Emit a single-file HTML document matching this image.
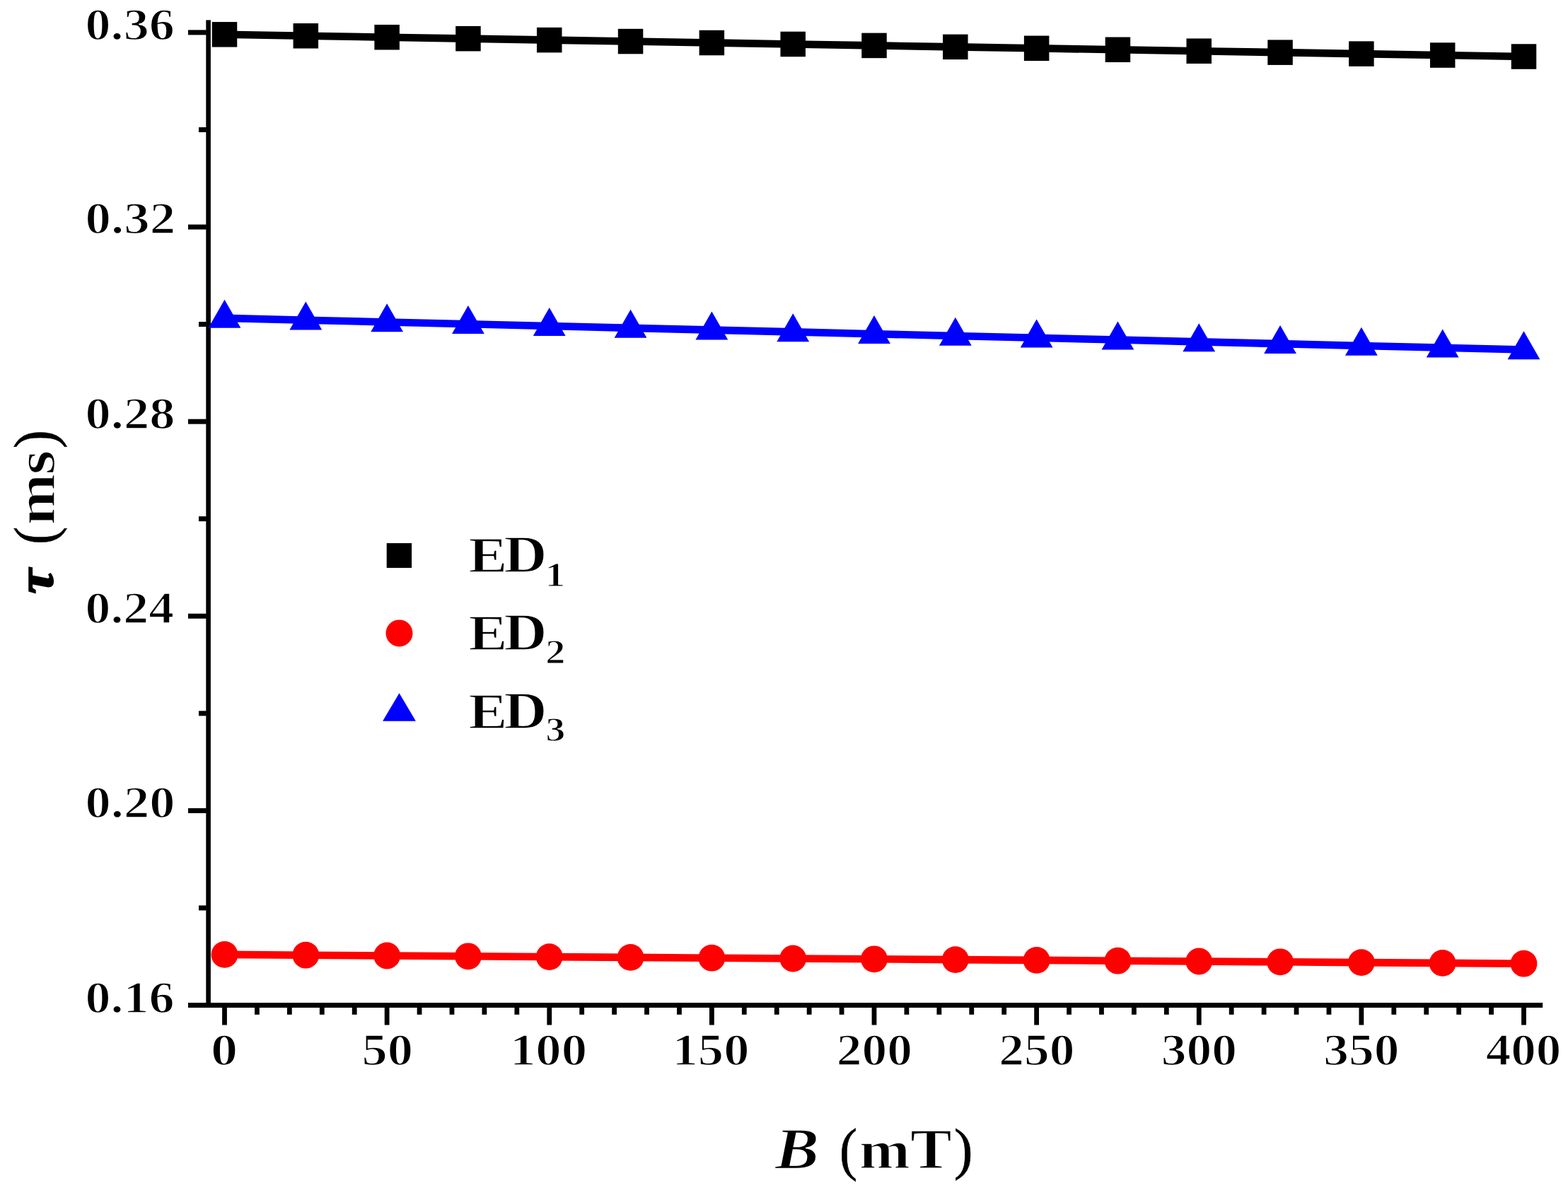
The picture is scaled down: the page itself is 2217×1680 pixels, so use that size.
<!DOCTYPE html>
<html><head><meta charset="utf-8"><title>tau vs B</title>
<style>
html,body{margin:0;padding:0;background:#fff;}
svg{display:block;}
text{font-family:'Liberation Serif', 'DejaVu Serif', serif;fill:#000;}
</style></head>
<body>
<svg width="2217" height="1680" viewBox="0 0 2217 1680" shape-rendering="geometricPrecision">
<rect width="2217" height="1680" fill="#fff"/>
<rect x="291.3" y="28.4" width="6.599999999999966" height="1396.6" fill="#000"/>
<rect x="291.3" y="1418.0" width="1889.8999999999999" height="7.0" fill="#000"/>
<rect x="266.0" y="1418.00" width="25.80" height="7.0" fill="#000"/>
<rect x="281.0" y="1280.44" width="10.80" height="7.0" fill="#000"/>
<rect x="266.0" y="1142.88" width="25.80" height="7.0" fill="#000"/>
<rect x="281.0" y="1005.32" width="10.80" height="7.0" fill="#000"/>
<rect x="266.0" y="867.76" width="25.80" height="7.0" fill="#000"/>
<rect x="281.0" y="730.20" width="10.80" height="7.0" fill="#000"/>
<rect x="266.0" y="592.64" width="25.80" height="7.0" fill="#000"/>
<rect x="281.0" y="455.08" width="10.80" height="7.0" fill="#000"/>
<rect x="266.0" y="317.52" width="25.80" height="7.0" fill="#000"/>
<rect x="281.0" y="179.96" width="10.80" height="7.0" fill="#000"/>
<rect x="266.0" y="42.40" width="25.80" height="7.0" fill="#000"/>
<rect x="314.10" y="1424.5" width="6.8" height="25.00" fill="#000"/>
<rect x="360.03" y="1424.5" width="6.8" height="10.30" fill="#000"/>
<rect x="405.95" y="1424.5" width="6.8" height="10.30" fill="#000"/>
<rect x="451.88" y="1424.5" width="6.8" height="10.30" fill="#000"/>
<rect x="497.80" y="1424.5" width="6.8" height="10.30" fill="#000"/>
<rect x="543.73" y="1424.5" width="6.8" height="25.00" fill="#000"/>
<rect x="589.65" y="1424.5" width="6.8" height="10.30" fill="#000"/>
<rect x="635.58" y="1424.5" width="6.8" height="10.30" fill="#000"/>
<rect x="681.50" y="1424.5" width="6.8" height="10.30" fill="#000"/>
<rect x="727.43" y="1424.5" width="6.8" height="10.30" fill="#000"/>
<rect x="773.35" y="1424.5" width="6.8" height="25.00" fill="#000"/>
<rect x="819.27" y="1424.5" width="6.8" height="10.30" fill="#000"/>
<rect x="865.20" y="1424.5" width="6.8" height="10.30" fill="#000"/>
<rect x="911.12" y="1424.5" width="6.8" height="10.30" fill="#000"/>
<rect x="957.05" y="1424.5" width="6.8" height="10.30" fill="#000"/>
<rect x="1002.98" y="1424.5" width="6.8" height="25.00" fill="#000"/>
<rect x="1048.90" y="1424.5" width="6.8" height="10.30" fill="#000"/>
<rect x="1094.82" y="1424.5" width="6.8" height="10.30" fill="#000"/>
<rect x="1140.75" y="1424.5" width="6.8" height="10.30" fill="#000"/>
<rect x="1186.67" y="1424.5" width="6.8" height="10.30" fill="#000"/>
<rect x="1232.60" y="1424.5" width="6.8" height="25.00" fill="#000"/>
<rect x="1278.52" y="1424.5" width="6.8" height="10.30" fill="#000"/>
<rect x="1324.45" y="1424.5" width="6.8" height="10.30" fill="#000"/>
<rect x="1370.38" y="1424.5" width="6.8" height="10.30" fill="#000"/>
<rect x="1416.30" y="1424.5" width="6.8" height="10.30" fill="#000"/>
<rect x="1462.22" y="1424.5" width="6.8" height="25.00" fill="#000"/>
<rect x="1508.15" y="1424.5" width="6.8" height="10.30" fill="#000"/>
<rect x="1554.07" y="1424.5" width="6.8" height="10.30" fill="#000"/>
<rect x="1600.00" y="1424.5" width="6.8" height="10.30" fill="#000"/>
<rect x="1645.92" y="1424.5" width="6.8" height="10.30" fill="#000"/>
<rect x="1691.85" y="1424.5" width="6.8" height="25.00" fill="#000"/>
<rect x="1737.77" y="1424.5" width="6.8" height="10.30" fill="#000"/>
<rect x="1783.70" y="1424.5" width="6.8" height="10.30" fill="#000"/>
<rect x="1829.62" y="1424.5" width="6.8" height="10.30" fill="#000"/>
<rect x="1875.55" y="1424.5" width="6.8" height="10.30" fill="#000"/>
<rect x="1921.47" y="1424.5" width="6.8" height="25.00" fill="#000"/>
<rect x="1967.40" y="1424.5" width="6.8" height="10.30" fill="#000"/>
<rect x="2013.32" y="1424.5" width="6.8" height="10.30" fill="#000"/>
<rect x="2059.25" y="1424.5" width="6.8" height="10.30" fill="#000"/>
<rect x="2105.17" y="1424.5" width="6.8" height="10.30" fill="#000"/>
<rect x="2151.10" y="1424.5" width="6.8" height="25.00" fill="#000"/>
<polyline points="317.50,48.80 432.31,50.75 547.12,52.70 661.94,54.65 776.75,56.60 891.56,58.55 1006.38,60.50 1121.19,62.45 1236.00,64.40 1350.81,66.35 1465.62,68.30 1580.44,70.25 1695.25,72.20 1810.06,74.15 1924.88,76.10 2039.69,78.05 2154.50,80.00" fill="none" stroke="#000" stroke-width="10.6" stroke-linejoin="miter"/>
<polyline points="317.50,1349.90 432.31,1350.70 547.12,1351.50 661.94,1352.30 776.75,1353.10 891.56,1353.90 1006.38,1354.70 1121.19,1355.50 1236.00,1356.30 1350.81,1357.10 1465.62,1357.90 1580.44,1358.70 1695.25,1359.50 1810.06,1360.30 1924.88,1361.10 2039.69,1361.90 2154.50,1362.70" fill="none" stroke="#f00" stroke-width="10.6" stroke-linejoin="miter"/>
<polyline points="317.50,449.90 432.31,452.69 547.12,455.47 661.94,458.26 776.75,461.05 891.56,463.84 1006.38,466.62 1121.19,469.41 1236.00,472.20 1350.81,474.99 1465.62,477.77 1580.44,480.56 1695.25,483.35 1810.06,486.14 1924.88,488.93 2039.69,491.71 2154.50,494.50" fill="none" stroke="#00f" stroke-width="10.6" stroke-linejoin="miter"/>
<rect x="299.75" y="31.05" width="35.5" height="35.5" fill="#000"/>
<rect x="414.56" y="33.00" width="35.5" height="35.5" fill="#000"/>
<rect x="529.38" y="34.95" width="35.5" height="35.5" fill="#000"/>
<rect x="644.19" y="36.90" width="35.5" height="35.5" fill="#000"/>
<rect x="759.00" y="38.85" width="35.5" height="35.5" fill="#000"/>
<rect x="873.81" y="40.80" width="35.5" height="35.5" fill="#000"/>
<rect x="988.62" y="42.75" width="35.5" height="35.5" fill="#000"/>
<rect x="1103.44" y="44.70" width="35.5" height="35.5" fill="#000"/>
<rect x="1218.25" y="46.65" width="35.5" height="35.5" fill="#000"/>
<rect x="1333.06" y="48.60" width="35.5" height="35.5" fill="#000"/>
<rect x="1447.88" y="50.55" width="35.5" height="35.5" fill="#000"/>
<rect x="1562.69" y="52.50" width="35.5" height="35.5" fill="#000"/>
<rect x="1677.50" y="54.45" width="35.5" height="35.5" fill="#000"/>
<rect x="1792.31" y="56.40" width="35.5" height="35.5" fill="#000"/>
<rect x="1907.12" y="58.35" width="35.5" height="35.5" fill="#000"/>
<rect x="2021.94" y="60.30" width="35.5" height="35.5" fill="#000"/>
<rect x="2136.75" y="62.25" width="35.5" height="35.5" fill="#000"/>
<circle cx="317.50" cy="1349.90" r="18.9" fill="#f00"/>
<circle cx="432.31" cy="1350.70" r="18.9" fill="#f00"/>
<circle cx="547.12" cy="1351.50" r="18.9" fill="#f00"/>
<circle cx="661.94" cy="1352.30" r="18.9" fill="#f00"/>
<circle cx="776.75" cy="1353.10" r="18.9" fill="#f00"/>
<circle cx="891.56" cy="1353.90" r="18.9" fill="#f00"/>
<circle cx="1006.38" cy="1354.70" r="18.9" fill="#f00"/>
<circle cx="1121.19" cy="1355.50" r="18.9" fill="#f00"/>
<circle cx="1236.00" cy="1356.30" r="18.9" fill="#f00"/>
<circle cx="1350.81" cy="1357.10" r="18.9" fill="#f00"/>
<circle cx="1465.62" cy="1357.90" r="18.9" fill="#f00"/>
<circle cx="1580.44" cy="1358.70" r="18.9" fill="#f00"/>
<circle cx="1695.25" cy="1359.50" r="18.9" fill="#f00"/>
<circle cx="1810.06" cy="1360.30" r="18.9" fill="#f00"/>
<circle cx="1924.88" cy="1361.10" r="18.9" fill="#f00"/>
<circle cx="2039.69" cy="1361.90" r="18.9" fill="#f00"/>
<circle cx="2154.50" cy="1362.70" r="18.9" fill="#f00"/>
<polygon points="317.50,423.73 294.60,463.73 340.40,463.73" fill="#00f"/>
<polygon points="432.31,426.52 409.41,466.52 455.21,466.52" fill="#00f"/>
<polygon points="547.12,429.31 524.23,469.31 570.02,469.31" fill="#00f"/>
<polygon points="661.94,432.10 639.04,472.10 684.84,472.10" fill="#00f"/>
<polygon points="776.75,434.88 753.85,474.88 799.65,474.88" fill="#00f"/>
<polygon points="891.56,437.67 868.66,477.67 914.46,477.67" fill="#00f"/>
<polygon points="1006.38,440.46 983.48,480.46 1029.28,480.46" fill="#00f"/>
<polygon points="1121.19,443.25 1098.29,483.25 1144.09,483.25" fill="#00f"/>
<polygon points="1236.00,446.03 1213.10,486.03 1258.90,486.03" fill="#00f"/>
<polygon points="1350.81,448.82 1327.91,488.82 1373.71,488.82" fill="#00f"/>
<polygon points="1465.62,451.61 1442.72,491.61 1488.53,491.61" fill="#00f"/>
<polygon points="1580.44,454.40 1557.54,494.40 1603.34,494.40" fill="#00f"/>
<polygon points="1695.25,457.18 1672.35,497.18 1718.15,497.18" fill="#00f"/>
<polygon points="1810.06,459.97 1787.16,499.97 1832.96,499.97" fill="#00f"/>
<polygon points="1924.88,462.76 1901.97,502.76 1947.78,502.76" fill="#00f"/>
<polygon points="2039.69,465.55 2016.79,505.55 2062.59,505.55" fill="#00f"/>
<polygon points="2154.50,468.33 2131.60,508.33 2177.40,508.33" fill="#00f"/>
<rect x="546.7" y="768.1" width="35.4" height="35" fill="#000"/>
<circle cx="564.5" cy="895.4" r="19" fill="#f00"/>
<polygon points="564.5,980.2 541.1,1019.7 587.9,1019.7" fill="#00f"/>
<text transform="translate(120.6,1431.505) scale(1.1474,1)" font-size="62.783" font-weight="bold" stroke="#fff" stroke-width="1.5">0.16</text>
<text transform="translate(120.58,1156.167) scale(1.1372,1)" font-size="63.75" font-weight="bold" stroke="#fff" stroke-width="1.5">0.20</text>
<text transform="translate(120.62,880.861) scale(1.1236,1)" font-size="63.75" font-weight="bold" stroke="#fff" stroke-width="1.5">0.24</text>
<text transform="translate(120.572,605.519) scale(1.1371,1)" font-size="63.75" font-weight="bold" stroke="#fff" stroke-width="1.5">0.28</text>
<text transform="translate(120.545,330.158) scale(1.1441,1)" font-size="63.75" font-weight="bold" stroke="#fff" stroke-width="1.5">0.32</text>
<text transform="translate(120.6,55.883) scale(1.1303,1)" font-size="63.75" font-weight="bold" stroke="#fff" stroke-width="1.5">0.36</text>
<text transform="translate(297.971,1506.278) scale(1.2033,1)" font-size="63.45" font-weight="bold" stroke="#fff" stroke-width="1.5">0</text>
<text transform="translate(511.458,1506.278) scale(1.144,1)" font-size="63.45" font-weight="bold" stroke="#fff" stroke-width="1.5">50</text>
<text transform="translate(720.927,1506.278) scale(1.1663,1)" font-size="62.491" font-weight="bold" stroke="#fff" stroke-width="1.5">100</text>
<text transform="translate(950.55,1506.278) scale(1.1628,1)" font-size="62.491" font-weight="bold" stroke="#fff" stroke-width="1.5">150</text>
<text transform="translate(1182.709,1506.278) scale(1.1271,1)" font-size="63.45" font-weight="bold" stroke="#fff" stroke-width="1.5">200</text>
<text transform="translate(1412.215,1506.278) scale(1.1269,1)" font-size="63.45" font-weight="bold" stroke="#fff" stroke-width="1.5">250</text>
<text transform="translate(1641.718,1506.278) scale(1.1269,1)" font-size="63.45" font-weight="bold" stroke="#fff" stroke-width="1.5">300</text>
<text transform="translate(1871.211,1506.278) scale(1.1269,1)" font-size="63.45" font-weight="bold" stroke="#fff" stroke-width="1.5">350</text>
<text transform="translate(2100.67,1506.278) scale(1.1209,1)" font-size="63.45" font-weight="bold" stroke="#fff" stroke-width="1.5">400</text>
<text><tspan x="662.54" y="808.82" textLength="54.783" lengthAdjust="spacingAndGlyphs" font-size="71.46" font-weight="bold" stroke="#fff" stroke-width="1.4">E</tspan><tspan x="712.47" y="808.84" textLength="60.880" lengthAdjust="spacingAndGlyphs" font-size="73.495" font-weight="bold" stroke="#fff" stroke-width="1.4">D</tspan><tspan x="770.49" y="828.69" textLength="28.934" lengthAdjust="spacingAndGlyphs" font-size="48.356" font-weight="bold" stroke="#fff" stroke-width="1.2">1</tspan></text>
<text><tspan x="662.54" y="918.82" textLength="54.783" lengthAdjust="spacingAndGlyphs" font-size="71.46" font-weight="bold" stroke="#fff" stroke-width="1.4">E</tspan><tspan x="712.47" y="918.84" textLength="60.880" lengthAdjust="spacingAndGlyphs" font-size="73.495" font-weight="bold" stroke="#fff" stroke-width="1.4">D</tspan><tspan x="771.28" y="938.03" textLength="28.087" lengthAdjust="spacingAndGlyphs" font-size="49.467" font-weight="bold" stroke="#fff" stroke-width="1.2">2</tspan></text>
<text><tspan x="662.54" y="1029.51" textLength="54.783" lengthAdjust="spacingAndGlyphs" font-size="71.46" font-weight="bold" stroke="#fff" stroke-width="1.4">E</tspan><tspan x="712.47" y="1029.57" textLength="60.880" lengthAdjust="spacingAndGlyphs" font-size="73.495" font-weight="bold" stroke="#fff" stroke-width="1.4">D</tspan><tspan x="771.48" y="1047.68" textLength="27.763" lengthAdjust="spacingAndGlyphs" font-size="48.918" font-weight="bold" stroke="#fff" stroke-width="1.2">3</tspan></text>
<text><tspan x="1096.10" y="1651.98" textLength="61.892" lengthAdjust="spacingAndGlyphs" font-size="81.45" font-weight="bold" font-style="italic" stroke="#fff" stroke-width="1.5">B</tspan> <tspan x="1186.98" y="1652.54" textLength="25.110" lengthAdjust="spacingAndGlyphs" font-size="82.352" font-weight="normal" stroke="#000" stroke-width="0.6">(</tspan><tspan x="1215.04" y="1651.86" textLength="71.853" lengthAdjust="spacingAndGlyphs" font-size="76.289" font-weight="bold" stroke="#fff" stroke-width="1.5">m</tspan><tspan x="1287.14" y="1651.91" textLength="58.769" lengthAdjust="spacingAndGlyphs" font-size="79.834" font-weight="bold" stroke="#fff" stroke-width="1.5">T</tspan><tspan x="1348.80" y="1651.78" textLength="26.728" lengthAdjust="spacingAndGlyphs" font-size="81.224" font-weight="normal" stroke="#000" stroke-width="0.6">)</tspan></text>
<text transform="rotate(-90)"><tspan x="-839.52" y="74.02" textLength="34.870" lengthAdjust="spacingAndGlyphs" font-size="72.0" font-weight="bold" font-style="italic" stroke="#000" stroke-width="2.2">τ</tspan> <tspan x="-770.03" y="76.76" textLength="25.238" lengthAdjust="spacingAndGlyphs" font-size="82.402" font-weight="normal" stroke="#000" stroke-width="0.6">(</tspan><tspan x="-742.59" y="76.88" textLength="72.654" lengthAdjust="spacingAndGlyphs" font-size="77.78" font-weight="bold" stroke="#fff" stroke-width="1.5">m</tspan><tspan x="-671.28" y="76.58" textLength="34.459" lengthAdjust="spacingAndGlyphs" font-size="77.247" font-weight="bold" stroke="#fff" stroke-width="1.5">s</tspan><tspan x="-634.31" y="76.77" textLength="26.231" lengthAdjust="spacingAndGlyphs" font-size="82.402" font-weight="normal" stroke="#000" stroke-width="0.6">)</tspan></text>
</svg>
</body></html>
